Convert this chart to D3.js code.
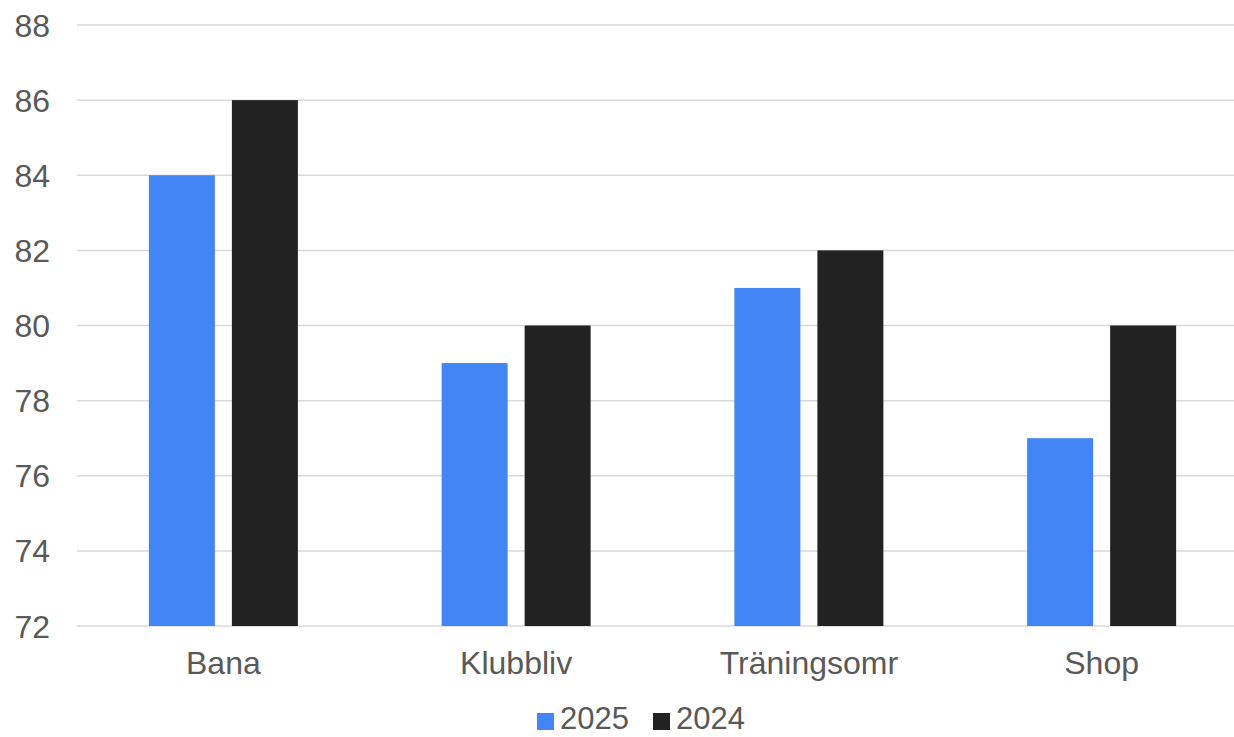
<!DOCTYPE html>
<html>
<head>
<meta charset="utf-8">
<script src="https://cdn.jsdelivr.net/npm/d3@7"></script>
<style>
  body { margin: 0; background: #fff; overflow: hidden; }
  text { font-family: "Liberation Sans", Arial, sans-serif; fill: #595959; }
</style>
</head>
<body>
<script>
var width = 1234,
    height = 737;

var categories = ["Bana", "Klubbliv", "Träningsomr", "Shop"],
    seriesNames = ["2025", "2024"],
    values2025 = [84, 79, 81, 77],
    values2024 = [86, 80, 82, 80],
    yTicks = [72, 74, 76, 78, 80, 82, 84, 86, 88],
    colors = ["#4285f4", "#222222"];

var data = categories.map(function(c, i) {
  return {cat: c, vals: [values2025[i], values2024[i]]};
});

var x0 = d3.scaleBand()
  .domain(categories)
  .range([77, 1248])
  .padding(0);

var groupW = 149;
var x1 = d3.scaleBand()
  .domain(seriesNames)
  .range([0, groupW])
  .paddingInner(0.205);

var y = d3.scaleLinear()
  .domain([72, 88])
  .range([626, 25]);

var svg = d3.select("body").append("svg")
  .attr("width", width)
  .attr("height", height);

// gridlines
svg.selectAll("line.grid")
  .data(yTicks)
  .enter()
    .append("line")
    .attr("class", "grid")
    .attr("x1", 77)
    .attr("x2", width)
    .attr("y1", function(d) { return y(d); })
    .attr("y2", function(d) { return y(d); })
    .style("stroke", "#d9d9d9")
    .style("stroke-width", 1.5);

// y labels
svg.selectAll("text.ytick")
  .data(yTicks)
  .enter()
    .append("text")
    .attr("class", "ytick")
    .attr("x", 50)
    .attr("y", function(d) { return y(d); })
    .attr("dy", "0.36em")
    .attr("text-anchor", "end")
    .style("font-size", "32px")
    .text(function(d) { return d; });

// bars
var groups = svg.selectAll("g.group")
  .data(data)
  .enter()
    .append("g")
    .attr("class", "group")
    .attr("transform", function(d) {
      return "translate(" + (x0(d.cat) + (x0.bandwidth() - groupW) / 2) + ",0)";
    });

groups.selectAll("rect")
  .data(function(d) { return d.vals.map(function(v, i) { return {s: seriesNames[i], v: v, i: i}; }); })
  .enter()
    .append("rect")
    .attr("x", function(d) { return x1(d.s); })
    .attr("y", function(d) { return y(d.v); })
    .attr("width", x1.bandwidth())
    .attr("height", function(d) { return y(72) - y(d.v); })
    .style("fill", function(d) { return colors[d.i]; });

// x labels
var xAxis = d3.axisBottom(x0).tickSize(0).tickPadding(0);
var gx = svg.append("g")
  .attr("transform", "translate(0,626)")
  .call(xAxis);
gx.select(".domain").remove();
gx.selectAll("text")
  .attr("y", 48)
  .attr("dy", 0)
  .style("font-size", "32px")
  .style("font-family", "'Liberation Sans', Arial, sans-serif")
  .style("fill", "#595959");

// legend
var legendX = [537, 653];
var leg = svg.selectAll("g.legend")
  .data(seriesNames)
  .enter()
    .append("g")
    .attr("class", "legend")
    .attr("transform", function(d, i) { return "translate(" + legendX[i] + ",713)"; });

leg.append("rect")
  .attr("width", 17)
  .attr("height", 17)
  .style("fill", function(d, i) { return colors[i]; });

leg.append("text")
  .attr("x", 23)
  .attr("y", 16)
  .style("font-size", "31px")
  .text(function(d) { return d; });
</script>
</body>
</html>
